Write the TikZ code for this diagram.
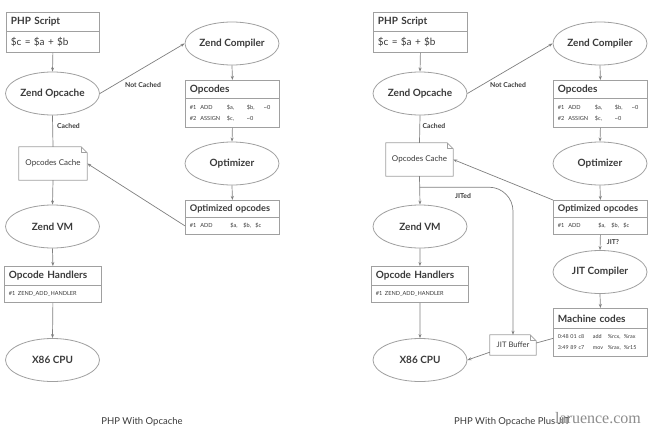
\documentclass[tikz,border=0pt]{standalone}
\usepackage{fontspec}
\setmainfont{Lato}
\newfontfamily\wmfont{Liberation Serif}
\usetikzlibrary{shapes.geometric,arrows.meta,calc}
\definecolor{linec}{HTML}{A0A0A0}
\definecolor{conc}{HTML}{808080}
\definecolor{txt}{HTML}{3A3A3A}
\begin{document}
\begin{tikzpicture}[x=1pt,y=-1pt,
  ell/.style={ellipse, draw=linec, line width=0.8pt, fill=white, minimum width=94pt, minimum height=43pt, inner sep=0pt, font=\bfseries\fontsize{10}{12}\selectfont, text=txt},
  ttl/.style={rectangle, draw=linec, line width=0.8pt, fill=white, anchor=north west, inner xsep=4.5pt, inner ysep=0pt, align=left, font=\bfseries\fontsize{10}{12}\selectfont, text=txt},
  ttlsm/.style={ttl, font=\bfseries\fontsize{9.2}{12}\selectfont},
  bod/.style={ttl, font=\fontsize{5.6}{11}\selectfont},
  bodbig/.style={ttl, font=\fontsize{10}{12}\selectfont},
  docn/.style={rectangle, draw=none, inner sep=0pt, font=\fontsize{8}{10}\selectfont, text=txt},
  docline/.style={draw=linec, line width=0.8pt, line join=round},
  arr/.style={draw=conc, line width=0.7pt, -{Stealth[length=4pt,width=3pt]}},
  ln/.style={draw=conc, line width=0.7pt},
  lbl/.style={inner sep=0pt, font=\bfseries\fontsize{6.8}{8}\selectfont, text=txt},
  captxt/.style={inner sep=0pt, font=\fontsize{9.5}{11}\selectfont, text=txt}
]
\useasboundingbox (0,0) rectangle (650,431);
\fill[white] (0,0) rectangle (650,431);

% ================= LEFT =================
\node[ttl, text width=84pt, minimum height=19pt] (phpLt) at (6,12) {PHP Script};
\node[bodbig, text width=84pt, minimum height=21pt] (phpLb) at (6,31) {\$c = \$a + \$b};
\node[ell] (opcacheL) at (52.5,93.5) {Zend Opcache};
\node[ell] (compL) at (232,43.5) {Zend Compiler};
\node[ttl, text width=85pt, minimum height=18pt] (opcLt) at (185,80) {Opcodes};
\node[bod, text width=85pt, minimum height=29pt] (opcLb) at (185,98) {\makebox[10.5pt][l]{\#1}\makebox[26.5pt][l]{ADD}\makebox[20pt][l]{\$a,}\makebox[17pt][l]{\$b,}\textasciitilde0\\\makebox[10.5pt][l]{\#2}\makebox[26.5pt][l]{ASSIGN}\makebox[20pt][l]{\$c,}\textasciitilde0};
\node[ell] (optmL) at (232,163.5) {Optimizer};
\node[ttlsm, text width=85pt, minimum height=17pt] (optLt) at (185,200) {\mbox{Optimized opcodes}};
\node[bod, text width=85pt, minimum height=17pt] (optLb) at (185,217) {\makebox[10.5pt][l]{\#1}\makebox[30pt][l]{ADD}\makebox[13pt][l]{\$a,}\makebox[12pt][l]{\$b,}\$c};
\node[docn, minimum width=68pt, minimum height=33pt] (cacheL) at (53,163.5) {Opcodes Cache};
\draw[docline] (cacheL.south west) -- (cacheL.north west) -- ([xshift=-6pt]cacheL.north east) -- ([yshift=-6pt]cacheL.north east) -- (cacheL.south east) -- cycle;
\draw[docline] ([xshift=-6pt]cacheL.north east) -- ([xshift=-6pt,yshift=-6pt]cacheL.north east) -- ([yshift=-6pt]cacheL.north east);
\node[ell] (vmL) at (52.5,226.5) {Zend VM};
\node[ttl, text width=88pt, minimum height=19pt] (hdlLt) at (4,266) {Opcode Handlers};
\node[bod, text width=88pt, minimum height=17pt] (hdlLb) at (4,285) {\makebox[9pt][l]{\#1}ZEND\_ADD\_HANDLER};
\node[ell] (cpuL) at (52.5,360) {X86 CPU};

\draw[arr] (phpLb.south) -- (opcacheL.north);
\draw[arr] (opcacheL.east) -- (compL.west);
\draw[arr] (compL.south) -- (opcLt.north);
\draw[arr] (opcLb.south) -- (optmL.north);
\draw[arr] (optmL.south) -- (optLt.north);
\draw[arr] (optLb.west) -- (cacheL.east);
\draw[ln] (opcacheL.south) -- (cacheL.north);
\draw[arr] (cacheL.south) -- (vmL.north);
\draw[arr] (vmL.south) -- (hdlLt.north);
\draw[arr] (hdlLb.south) -- (cpuL.north);

\node[lbl] (ncL) at (143,85) {Not Cached};
\node[lbl] (cachedL) at (68.5,126) {Cached};
\node[captxt] (capL) at (142,422) {PHP With Opcache};

% ================= RIGHT =================
\node[ttl, text width=85pt, minimum height=19pt] (phpRt) at (373,12) {PHP Script};
\node[bodbig, text width=85pt, minimum height=21pt] (phpRb) at (373,31) {\$c = \$a + \$b};
\node[ell] (opcacheR) at (420,93.5) {Zend Opcache};
\node[ell] (compR) at (600,43.5) {Zend Compiler};
\node[ttl, text width=85pt, minimum height=18pt] (opcRt) at (553,80) {Opcodes};
\node[bod, text width=85pt, minimum height=29pt] (opcRb) at (553,98) {\makebox[10.5pt][l]{\#1}\makebox[26.5pt][l]{ADD}\makebox[20pt][l]{\$a,}\makebox[17pt][l]{\$b,}\textasciitilde0\\\makebox[10.5pt][l]{\#2}\makebox[26.5pt][l]{ASSIGN}\makebox[20pt][l]{\$c,}\textasciitilde0};
\node[ell] (optmR) at (600,163.5) {Optimizer};
\node[ttlsm, text width=85pt, minimum height=17pt] (optRt) at (553,200) {\mbox{Optimized opcodes}};
\node[bod, text width=85pt, minimum height=17pt] (optRb) at (553,217) {\makebox[10.5pt][l]{\#1}\makebox[30pt][l]{ADD}\makebox[13pt][l]{\$a,}\makebox[12pt][l]{\$b,}\$c};
\node[ell] (jitR) at (600,272) {JIT Compiler};
\node[ttl, text width=85pt, minimum height=20pt] (macRt) at (553,308) {Machine codes};
\node[bod, text width=85pt, minimum height=28pt, font=\fontsize{5.4}{11}\selectfont] (macRb) at (553,328) {\makebox[35pt][l]{0:48 01 c8}\makebox[15pt][l]{add}\makebox[16pt][l]{\%rcx,}\%rax\\\makebox[35pt][l]{3:49 89 c7}\makebox[15pt][l]{mov}\makebox[16pt][l]{\%rax,}\%r15};
\node[docn, minimum width=67pt, minimum height=33pt] (cacheR) at (419.5,159.5) {Opcodes Cache};
\draw[docline] (cacheR.south west) -- (cacheR.north west) -- ([xshift=-6pt]cacheR.north east) -- ([yshift=-6pt]cacheR.north east) -- (cacheR.south east) -- cycle;
\draw[docline] ([xshift=-6pt]cacheR.north east) -- ([xshift=-6pt,yshift=-6pt]cacheR.north east) -- ([yshift=-6pt]cacheR.north east);
\node[docn, minimum width=46pt, minimum height=20pt, font=\fontsize{7.6}{9}\selectfont] (jitbuf) at (513,345) {JIT Buffer};
\draw[docline] (jitbuf.south west) -- (jitbuf.north west) -- ([xshift=-6pt]jitbuf.north east) -- ([yshift=-6pt]jitbuf.north east) -- (jitbuf.south east) -- cycle;
\draw[docline] ([xshift=-6pt]jitbuf.north east) -- ([xshift=-6pt,yshift=-6pt]jitbuf.north east) -- ([yshift=-6pt]jitbuf.north east);
\node[ell] (vmR) at (420,226.5) {Zend VM};
\node[ttl, text width=88pt, minimum height=19pt] (hdlRt) at (371,266) {Opcode Handlers};
\node[bod, text width=88pt, minimum height=17pt] (hdlRb) at (371,285) {\makebox[9pt][l]{\#1}ZEND\_ADD\_HANDLER};
\node[ell] (cpuR) at (420,360) {X86 CPU};
\coordinate (jstart) at ([yshift=-11pt]cacheR.south);

\draw[arr] (phpRb.south) -- (opcacheR.north);
\draw[arr] (opcacheR.east) -- (compR.west);
\draw[arr] (compR.south) -- (opcRt.north);
\draw[arr] (opcRb.south) -- (optmR.north);
\draw[arr] (optmR.south) -- (optRt.north);
\draw[arr] (optRt.north west) -- (cacheR.east);
\draw[ln] (opcacheR.south) -- (cacheR.north);
\draw[arr] (cacheR.south) -- (vmR.north);
\draw[arr] (vmR.south) -- (hdlRt.north);
\draw[arr] (hdlRb.south) -- (cpuR.north);
\draw[arr] (optRb.south) -- (jitR.north);
\draw[arr] (jitR.south) -- (macRt.north);
\draw[ln] ([yshift=4pt]macRb.west) -- ([yshift=2pt]jitbuf.east);
\draw[arr] ([yshift=3pt]jitbuf.south west) -- (cpuR.east);
\draw[arr, rounded corners=24pt] (jstart) -| (jitbuf.north);

\node[lbl] (ncR) at (508,85) {Not Cached};
\node[lbl] (cachedR) at (434,126) {Cached};
\node[lbl] (jited) at (463,196) {JITed};
\node[lbl] (jitq) at (613,242) {JIT?};
\node[captxt] (capR) at (512,422) {PHP With Opcache Plus JIT};
\node[inner sep=0pt, font=\wmfont\fontsize{16}{18}\selectfont, text=black!45] (wm) at (598,418) {laruence.com};
\end{tikzpicture}
\end{document}
